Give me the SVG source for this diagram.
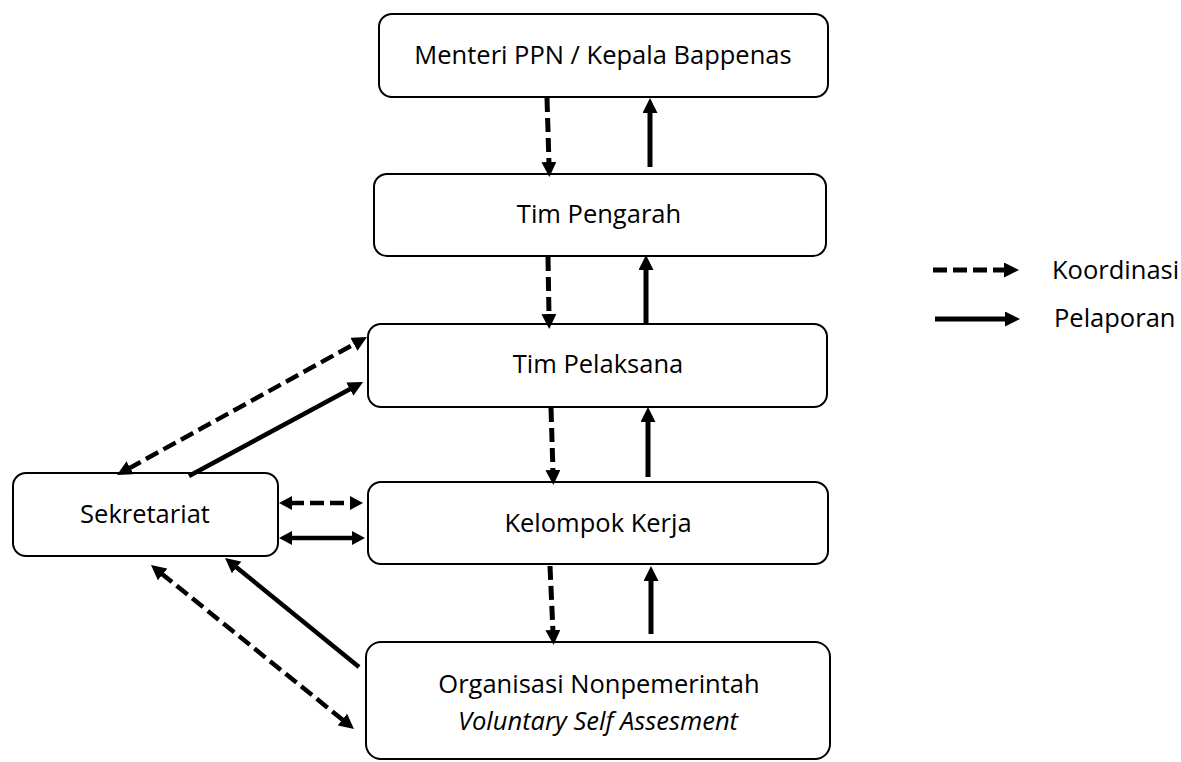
<svg xmlns="http://www.w3.org/2000/svg" width="1181" height="762" viewBox="0 0 1181 762">
<style>
.box{fill:#fff;stroke:#000;stroke-width:2}
.t{font-family:"Open Sans","Liberation Sans",sans-serif;font-size:25.5px;fill:#000;text-anchor:middle}
.lg{font-family:"Open Sans","Liberation Sans",sans-serif;font-size:25.5px;fill:#000}
.s{stroke:#000;stroke-width:5;fill:none}
.d{stroke:#000;stroke-width:5;fill:none;stroke-dasharray:14 6}
.sm{stroke-width:4.5}
.e{marker-end:url(#ah)}
.b{marker-start:url(#ah);marker-end:url(#ah)}
.bs{marker-start:url(#as);marker-end:url(#as)}
</style>
<defs>
<marker id="ah" markerUnits="userSpaceOnUse" markerWidth="15" markerHeight="15" refX="2" refY="7.5" orient="auto-start-reverse">
<path d="M0,0 L15,7.5 L0,15 z" fill="#000"/>
</marker>
<marker id="as" markerUnits="userSpaceOnUse" markerWidth="13" markerHeight="14" refX="2" refY="7" orient="auto-start-reverse">
<path d="M0,0 L13,7 L0,14 z" fill="#000"/>
</marker>
</defs>
<g id="n-menteri"><rect class="box" x="379" y="14" width="449" height="83" rx="13"/><text class="t" x="603" y="64">Menteri PPN / Kepala Bappenas</text></g>
<g id="n-pengarah"><rect class="box" x="374" y="174" width="452" height="82" rx="13"/><text class="t" x="599" y="223">Tim Pengarah</text></g>
<g id="n-pelaksana"><rect class="box" x="368" y="324" width="459" height="83" rx="13"/><text class="t" x="598" y="373">Tim Pelaksana</text></g>
<g id="n-pokja"><rect class="box" x="368" y="482" width="460" height="82" rx="13"/><text class="t" x="598" y="532">Kelompok Kerja</text></g>
<g id="n-ornop"><rect class="box" x="366" y="642" width="464" height="117" rx="15"/><text class="t" x="599" y="693">Organisasi Nonpemerintah</text><text class="t" x="598" y="730" font-style="italic">Voluntary Self Assesment</text></g>
<g id="n-sekretariat"><rect class="box" x="13" y="473" width="265" height="83" rx="13"/><text class="t" x="145" y="523">Sekretariat</text></g>
<g id="connectors">
<line class="d e" x1="547" y1="98" x2="549" y2="164"/>
<line class="s e" x1="650" y1="167" x2="650" y2="111"/>
<line class="d e" x1="548" y1="257" x2="549" y2="316"/>
<line class="s e" x1="646" y1="323" x2="646" y2="268"/>
<line class="d e" x1="551" y1="408" x2="553" y2="472"/>
<line class="s e" x1="648" y1="477" x2="648" y2="420"/>
<line class="d e" x1="550" y1="566" x2="553" y2="632"/>
<line class="s e" x1="651" y1="634" x2="651" y2="579"/>
<line class="d sm b" x1="128.4" y1="468.7" x2="355.6" y2="343.3"/>
<line class="s sm e" x1="189" y1="476" x2="351.6" y2="388.2"/>
<line class="d sm bs" x1="290" y1="503" x2="352" y2="503"/>
<line class="s sm bs" x1="290" y1="538" x2="354" y2="538"/>
<line class="s sm e" x1="359" y1="667" x2="235.1" y2="566.2"/>
<line class="d sm b" x1="161.1" y1="573.2" x2="343.9" y2="720.8"/>
</g>
<g id="legend">
<line class="d e" x1="933" y1="270" x2="1006" y2="270"/>
<line class="s e" x1="935" y1="319" x2="1007" y2="319"/>
<text class="lg" x="1052" y="279">Koordinasi</text>
<text class="lg" x="1054" y="327">Pelaporan</text>
</g>
</svg>
